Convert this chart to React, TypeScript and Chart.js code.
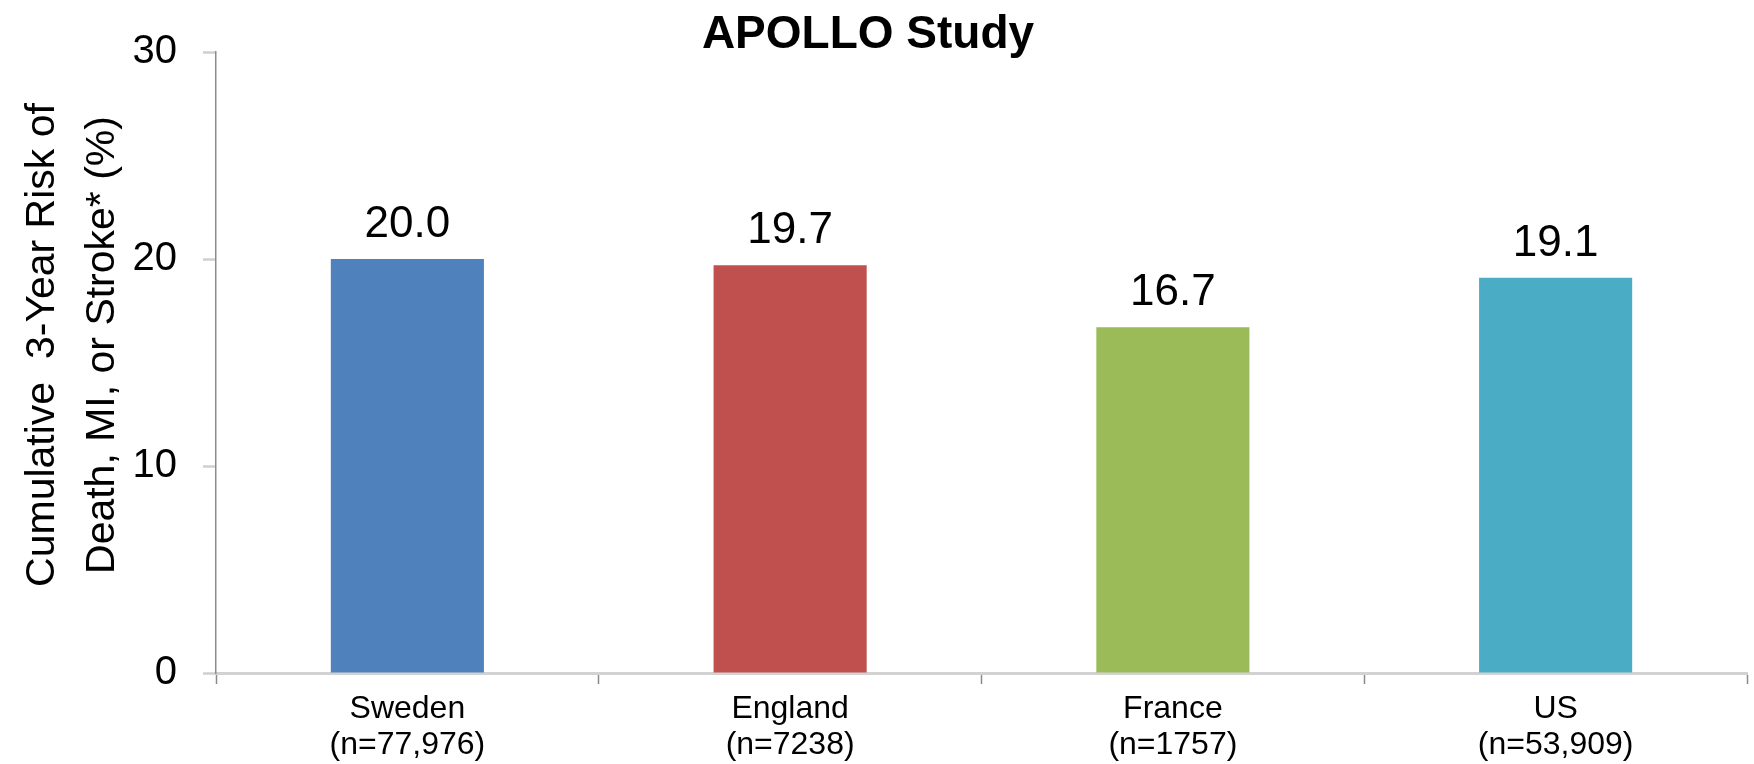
import React, { useEffect, useRef } from "react";
import { Chart, registerables } from "chart.js";

Chart.register(...registerables);

const TITLE = "APOLLO Study";
const Y_TITLE_LINES = ["Cumulative  3-Year Risk of", "Death, MI, or Stroke* (%)"];
const CATEGORIES: string[][] = [
  ["Sweden", "(n=77,976)"],
  ["England", "(n=7238)"],
  ["France", "(n=1757)"],
  ["US", "(n=53,909)"],
];
const RISK_VALUES = [20.0, 19.7, 16.7, 19.1];
const BAR_COLORS = ["#4F81BD", "#C0504D", "#9BBB59", "#4BACC6"];
const Y_MIN = 0;
const Y_MAX = 30;
const Y_STEP = 10;

const FONT = '"Liberation Sans", Arial, Helvetica, sans-serif';

const W = 1754;
const H = 764;

const textPlugin = {
  id: "customText",
  afterDatasetsDraw(chart: any) {
    const ctx = chart.ctx;
    ctx.save();
    // value labels
    const meta = chart.getDatasetMeta(0);
    ctx.fillStyle = "#000";
    ctx.font = `44px ${FONT}`;
    ctx.textAlign = "center";
    ctx.textBaseline = "alphabetic";
    meta.data.forEach((bar: any, i: number) => {
      ctx.fillText(RISK_VALUES[i].toFixed(1), bar.x, bar.y - 22);
    });
    // main title
    ctx.font = `bold 46px ${FONT}`;
    ctx.fillText(TITLE, 868, 48);
    // y axis title
    const cy = 345;
    ctx.font = `41px ${FONT}`;
    const baselines = [54, 114];
    Y_TITLE_LINES.forEach((line, i) => {
      ctx.save();
      ctx.translate(baselines[i], cy);
      ctx.rotate(-Math.PI / 2);
      ctx.fillText(line, 0, 0);
      ctx.restore();
    });
    ctx.restore();
  },
};

export default function App() {
  const ref = useRef<HTMLCanvasElement | null>(null);

  useEffect(() => {
    document.body.style.margin = "0";
    const canvas = ref.current;
    if (!canvas) return;
    const chart = new Chart(canvas, {
      type: "bar",
      data: {
        labels: CATEGORIES,
        datasets: [
          {
            data: RISK_VALUES,
            backgroundColor: BAR_COLORS,
            borderWidth: 0,
            barPercentage: 0.4,
            categoryPercentage: 1.0,
          },
        ],
      },
      options: {
        responsive: false,
        animation: false,
        devicePixelRatio: 1,
        layout: { padding: { top: 52, right: 7, bottom: 0, left: 0 } },
        plugins: {
          legend: { display: false },
          title: { display: false },
          tooltip: { enabled: false },
        },
        scales: {
          x: {
            offset: true,
            grid: {
              display: true,
              drawOnChartArea: false,
              offset: true,
              tickLength: 11,
              tickColor: "#8a8a8a",
              tickWidth: 1.5,
            },
            border: { display: true, color: "#d2d2d2", width: 3 },
            ticks: {
              color: "#000",
              font: { family: FONT, size: 32, lineHeight: 1.1 },
              padding: 8,
              maxRotation: 0,
              autoSkip: false,
            },
            afterFit: (s: any) => {
              s.height = H - 673;
            },
          },
          y: {
            min: Y_MIN,
            max: Y_MAX,
            grid: {
              display: true,
              drawOnChartArea: false,
              tickLength: 13,
              tickColor: "#cfcfcf",
              tickWidth: 2.5,
            },
            border: { display: true, color: "#8c8c8c", width: 1.5 },
            ticks: {
              stepSize: Y_STEP,
              color: "#000",
              font: { family: FONT, size: 40 },
              padding: 26,
            },
            afterFit: (s: any) => {
              s.width = 216;
            },
          },
        },
      },
      plugins: [textPlugin],
    });
    return () => chart.destroy();
  }, []);

  return (
    <div style={{ position: "absolute", left: 0, top: 0, width: W, height: H, background: "#fff" }}>
      <canvas ref={ref} width={W} height={H} style={{ display: "block", width: W, height: H }} />
    </div>
  );
}
